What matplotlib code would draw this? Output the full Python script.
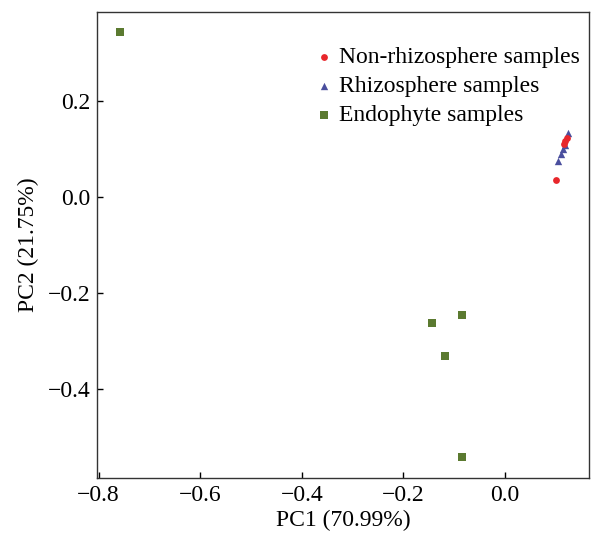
import matplotlib
matplotlib.use("Agg")
import matplotlib.pyplot as plt

plt.rcParams["font.family"] = ["Liberation Serif", "DejaVu Serif"]

# PCA scores
non_rhizo_x = [0.100, 0.115, 0.118, 0.121]
non_rhizo_y = [0.036, 0.110, 0.117, 0.124]
rhizo_x = [0.104, 0.110, 0.113, 0.117, 0.123]
rhizo_y = [0.075, 0.091, 0.100, 0.109, 0.134]
endo_x = [-0.758, -0.085, -0.144, -0.118, -0.084]
endo_y = [0.345, -0.245, -0.261, -0.330, -0.541]

fig = plt.figure(figsize=(5.93, 5.35), dpi=100)
ax = fig.add_axes([0.1644, 0.1071, 0.8289, 0.8705])

ax.scatter(non_rhizo_x, non_rhizo_y, s=24, marker="o", color="#e8262b",
           linewidths=0, label="Non-rhizosphere samples", zorder=3)
ax.scatter(rhizo_x, rhizo_y, s=28, marker="^", color="#4a4f9e",
           linewidths=0, label="Rhizosphere samples", zorder=2)
ax.scatter(endo_x, endo_y, s=28, marker="s", color="#5b7a30",
           linewidths=0, label="Endophyte samples", zorder=2)

ax.set_xlim(-0.802, 0.165)
ax.set_ylim(-0.584, 0.386)
ax.set_xticks([-0.8, -0.6, -0.4, -0.2, 0.0])
ax.set_yticks([-0.4, -0.2, 0.0, 0.2])
fmt = plt.FuncFormatter(lambda v, p: f"{v:.1f}".replace("-", "\u2212"))
ax.xaxis.set_major_formatter(fmt)
ax.yaxis.set_major_formatter(fmt)
ax.tick_params(direction="in", length=4, width=1, labelsize=17, pad=5)
for s in ax.spines.values():
    s.set_linewidth(1.0)
    s.set_color("#333333")

ax.set_xlabel("PC1 (70.99%)", fontsize=17, labelpad=3)
ax.set_ylabel("PC2 (21.75%)", fontsize=17, labelpad=6)

ax.legend(loc="upper right", bbox_to_anchor=(1.014, 0.961), frameon=False,
          fontsize=17, handletextpad=0.1, labelspacing=0.31,
          borderaxespad=0.3, handlelength=1.0, borderpad=0.4)

fig.savefig("out.png", dpi=100)
